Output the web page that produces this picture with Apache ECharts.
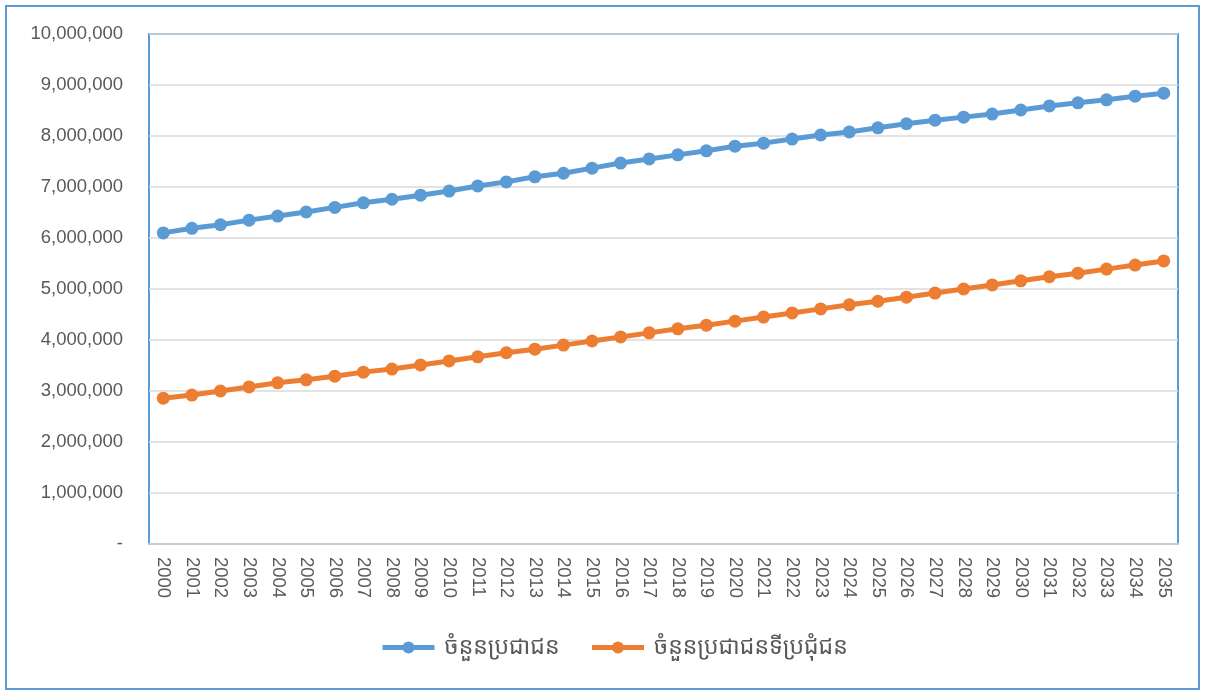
<!DOCTYPE html>
<html><head><meta charset="utf-8">
<script src="https://cdn.jsdelivr.net/npm/echarts@6/dist/echarts.min.js"></script>
<style>html,body{margin:0;padding:0;background:#fff}#c{width:1207px;height:696px}
#frame{position:absolute;left:5px;top:5px;width:1195px;height:685px;border:2px solid #5B9BD5;box-sizing:border-box;pointer-events:none}</style>
</head><body><div id="c"></div><div id="frame"></div>
<script>
const years = ['2000','2001','2002','2003','2004','2005','2006','2007','2008','2009','2010','2011','2012','2013','2014','2015','2016','2017','2018','2019','2020','2021','2022','2023','2024','2025','2026','2027','2028','2029','2030','2031','2032','2033','2034','2035'];
const seriesNames = ['ចំនួនប្រជាជន','ចំនួនប្រជាជនទីប្រជុំជន'];
const total = [6100000,6190000,6260000,6350000,6430000,6510000,6600000,6690000,6760000,6840000,6920000,7020000,7100000,7200000,7270000,7370000,7470000,7550000,7630000,7710000,7800000,7860000,7940000,8020000,8080000,8160000,8240000,8310000,8370000,8430000,8510000,8590000,8650000,8710000,8780000,8840000];
const urban = [2860000,2920000,3000000,3080000,3160000,3220000,3290000,3370000,3430000,3510000,3590000,3670000,3750000,3820000,3900000,3980000,4060000,4140000,4220000,4290000,4370000,4450000,4530000,4610000,4690000,4760000,4840000,4920000,5000000,5080000,5160000,5240000,5310000,5390000,5470000,5550000];
const yTicks = {min:0, max:10000000, interval:1000000};

const chart = echarts.init(document.getElementById('c'));
const font = '"Noto Sans Khmer","Khmer OS","Noto Sans","Liberation Sans",sans-serif';
const numFont = '"Liberation Sans","Noto Sans",sans-serif';
chart.setOption({
  animation:false,
  textStyle:{fontFamily:font},
  grid:{left:149,right:29,top:34,bottom:152,show:true,borderColor:'#5B9BD5',borderWidth:2,backgroundColor:'transparent'},
  legend:{bottom:32,left:375,itemWidth:52,itemHeight:15,itemGap:30,
    lineStyle:{width:5},
    textStyle:{fontSize:23,color:'#595959',fontFamily:font,padding:[0,0,0,5]},
    data:seriesNames},
  xAxis:{type:'category',data:years,boundaryGap:true,
    axisLine:{show:true,lineStyle:{color:'#C8CDD3',width:2}},
    axisTick:{show:false},
    axisLabel:{rotate:-90,interval:0,fontSize:18.5,color:'#595959',margin:13,fontFamily:numFont}},
  yAxis:{type:'value',min:yTicks.min,max:yTicks.max,interval:yTicks.interval,
    axisLine:{show:false},axisTick:{show:false},
    splitLine:{lineStyle:{color:'#D9D9D9',width:1.5}},
    axisLabel:{fontSize:18.5,color:'#595959',margin:26,fontFamily:numFont,
      formatter:v=> v===0 ? '-' : v.toLocaleString('en-US')}},
  series:[
    {name:seriesNames[0],type:'line',data:total,symbol:'circle',symbolSize:13,
      lineStyle:{width:5,color:'#5B9BD5'},itemStyle:{color:'#5B9BD5'}},
    {name:seriesNames[1],type:'line',data:urban,symbol:'circle',symbolSize:13,
      lineStyle:{width:5,color:'#ED7D31'},itemStyle:{color:'#ED7D31'}}
  ]
});
</script></body></html>
